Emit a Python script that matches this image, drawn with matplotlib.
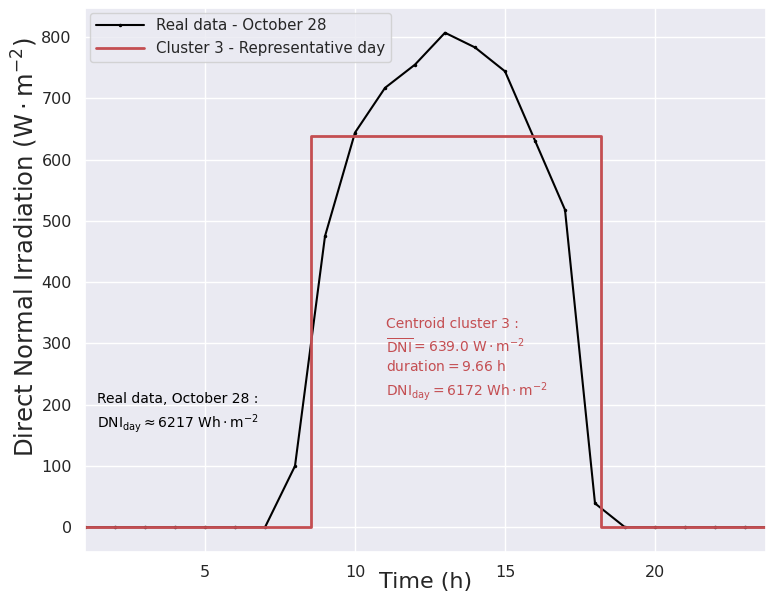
import matplotlib
matplotlib.use("Agg")
import matplotlib.pyplot as plt
import seaborn as sns

# real data, October 28 (hourly DNI)
horas = [1, 2, 3, 4, 5, 6, 7, 8, 9, 10, 11, 12, 13, 14, 15, 16, 17, 18, 19, 20, 21, 22, 23, 24]
dni_real = [0, 0, 0, 0, 0, 0, 0, 100, 475, 644, 717, 755, 807, 783, 744, 631, 518, 39, 0, 0, 0, 0, 0, 0]

# representative day of cluster 3
inicio_cluster = 8.53
fin_cluster = 18.19
nivel_cluster = 639.0

sns.set_theme(style="darkgrid")
plt.rcParams["font.family"] = ["DejaVu Sans"]

fig, ax = plt.subplots(figsize=(7.66, 5.94), dpi=100)
fig.subplots_adjust(left=85 / 766, right=1.0, top=1 - 8 / 594, bottom=1 - 552 / 594)

ax.plot(horas, dni_real, color="black", marker=".", markersize=3, linewidth=1.5,
        label="Real data - October 28")

t_cluster = [horas[0], inicio_cluster, inicio_cluster, fin_cluster, fin_cluster, horas[-1]]
v_cluster = [0, 0, nivel_cluster, nivel_cluster, 0, 0]
ax.plot(t_cluster, v_cluster, color="#C44E52", linewidth=2,
        label="Cluster 3 - Representative day")

ax.set_xlim(1, 23.7)
ax.set_xticks([5, 10, 15, 20])
ax.tick_params(labelsize=11.5)
ax.set_xlabel("Time (h)", fontsize=16, labelpad=-6)
ax.set_ylabel(r"Direct Normal Irradiation $(\mathrm{W \cdot m^{-2}})$", fontsize=17.5)
ax.yaxis.set_label_coords(-0.066, 0.56)

ax.text(11.03, 343, "Centroid cluster 3 :\n"
        r"$\overline{\mathrm{DNI}} = 639.0\ \mathrm{W \cdot m^{-2}}$" "\n"
        r"$\mathrm{duration} = 9.66\ \mathrm{h}$" "\n"
        r"$\mathrm{DNI_{day}} = 6172\ \mathrm{Wh \cdot m^{-2}}$",
        color="#C44E52", fontsize=10, va="top", linespacing=1.35)

ax.text(1.4, 220, "Real data, October 28 :\n"
        r"$\mathrm{DNI_{day}} \approx 6217\ \mathrm{Wh \cdot m^{-2}}$",
        color="black", fontsize=10, va="top", linespacing=1.35)

ax.legend(loc="upper left", fontsize=10.8, handlelength=3.2, borderaxespad=0.3)

plt.savefig("out.png", dpi=100)
plt.close()
